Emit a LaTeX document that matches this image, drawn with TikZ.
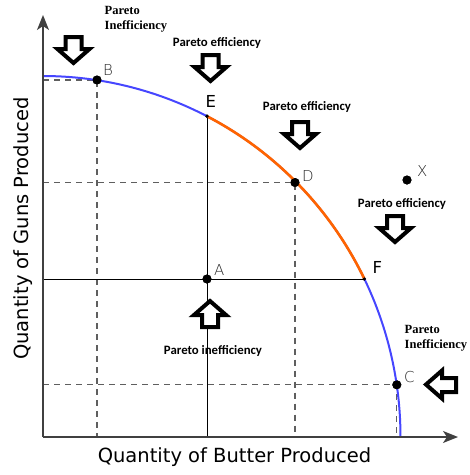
\documentclass[tikz,border=0pt]{standalone}
\usepackage{fontspec}
\setmainfont{DejaVu Sans}
\newfontfamily\serifb{Liberation Serif}
\newfontfamily\calib{Carlito}
\newfontfamily\thinf{DejaVu Sans ExtraLight}
\usetikzlibrary{arrows.meta}
\definecolor{curveblue}{RGB}{70,70,255}
\definecolor{curveorange}{RGB}{255,100,0}
\definecolor{dashgray}{RGB}{95,95,95}
\tikzset{
 axis/.style={draw=black!75, line width=1.5pt, -{Stealth[length=15pt,width=12pt,inset=4pt]}},
 guide/.style={draw=dashgray, line width=1.3pt, dash pattern=on 6pt off 5pt},
 solidguide/.style={draw=black, line width=1pt},
 dot/.style={circle, fill=black, inner sep=0pt, minimum size=9pt},
 smalldot/.style={circle, fill=black, inner sep=0pt, minimum size=3.5pt},
 ptlabel/.style={anchor=base west, inner sep=0pt, font=\thinf\fontsize{15}{18}\selectfont, text=black!85},
 boldlabel/.style={anchor=base west, inner sep=0pt, font=\fontsize{16.5}{19}\selectfont},
 effnote/.style={anchor=base, inner sep=0pt, font=\calib\bfseries\fontsize{12.8}{15}\selectfont},
 ineffnote/.style={anchor=north west, inner sep=0pt, align=left, font=\serifb\bfseries\fontsize{12.5}{15}\selectfont},
 blockarrow/.style={draw=black, fill=white, line width=4pt, line join=miter, miter limit=4},
 downarrow/.pic={\path[blockarrow] (-8,-13) -- (8,-13) -- (8,-1) -- (16,-1) -- (0,13) -- (-16,-1) -- (-8,-1) -- cycle;},
 axislabel/.style={inner sep=0pt, anchor=base, font=\fontsize{19.5}{23}\selectfont}
}
\begin{document}
\begin{tikzpicture}[x=1pt,y=-1pt]
\useasboundingbox (0,0) rectangle (470,475);
\fill[white] (0,0) rectangle (470,475);
% origin and axis tips
\coordinate (O) at (43,437);
\coordinate (xtip) at (458,437);
\coordinate (ytip) at (43,15);
% points
\node[dot] (B) at (97,80) {};
\node[smalldot] (E) at (207,116.2) {};
\node[dot] (D) at (295,182.5) {};
\node[smalldot] (F) at (364.3,279) {};
\node[dot] (A) at (207,279) {};
\node[dot] (C) at (396.8,384.8) {};
\node[dot] (X) at (407,180) {};
% guide lines
\draw[guide] (B -| O) -- (B.center) -- (B |- O);
\draw[guide] (D -| O) -- (D.center) -- (D |- O);
\draw[guide] (C -| O) -- (C.center) -- (C |- O);
\draw[solidguide] (E.center) -- (E |- O);
\draw[solidguide] (F -| O) -- (F.center);
% frontier
\draw[curveblue, line width=2pt] plot[domain=0:90, samples=150] ({43+357.5*cos(\x)}, {437-361*sin(\x)});
\draw[curveorange, line width=2.6pt] plot[domain=25.97:62.7, samples=80] ({43+357.5*cos(\x)}, {437-361*sin(\x)});
% redraw dots on top
\foreach \p in {B,D,A,C,X} \fill (\p) circle (4.5pt);
\foreach \p in {E,F} \fill (\p) circle (1.8pt);
% axes
\draw[axis] (O) -- (xtip);
\draw[axis] (O) -- (ytip);
% point labels
\node[ptlabel] (lB) at (103,75) {B};
\node[ptlabel] (lD) at (302,181) {D};
\node[ptlabel] (lX) at (417,176) {X};
\node[ptlabel] (lA) at (214,275) {A};
\node[ptlabel] (lC) at (404,382) {C};
\node[boldlabel] (lE) at (205.5,107) {E};
\node[boldlabel] (lF) at (372.5,273) {F};
% axis labels
\node[axislabel] (xl) at (234.5,462) {Quantity of Butter Produced};
\node[axislabel, rotate=90] (yl) at (28,228.5) {Quantity of Guns Produced};
% notes
\node[ineffnote] (n1) at (104.5,6.5) {Pareto\\Inefficiency};
\node[ineffnote] (n2) at (404.5,325.5) {Pareto\\Inefficiency};
\node[effnote] (e1) at (217,46.5) {Pareto efficiency};
\node[effnote] (e2) at (307,110.5) {Pareto efficiency};
\node[effnote] (e3) at (402,207) {Pareto efficiency};
\node[effnote] (e4) at (213,354.5) {Pareto inefficiency};
% block arrows
\pic at (73.5,50) {downarrow};
\pic at (210.5,68) {downarrow};
\pic at (300,135) {downarrow};
\pic at (395,229) {downarrow};
\pic[rotate=180] at (210,314) {downarrow};
\path[blockarrow] (456,378) -- (456,392) -- (442,392) -- (442,398.5) -- (426,384.5) -- (442,370.5) -- (442,378) -- cycle;
\end{tikzpicture}
\end{document}
